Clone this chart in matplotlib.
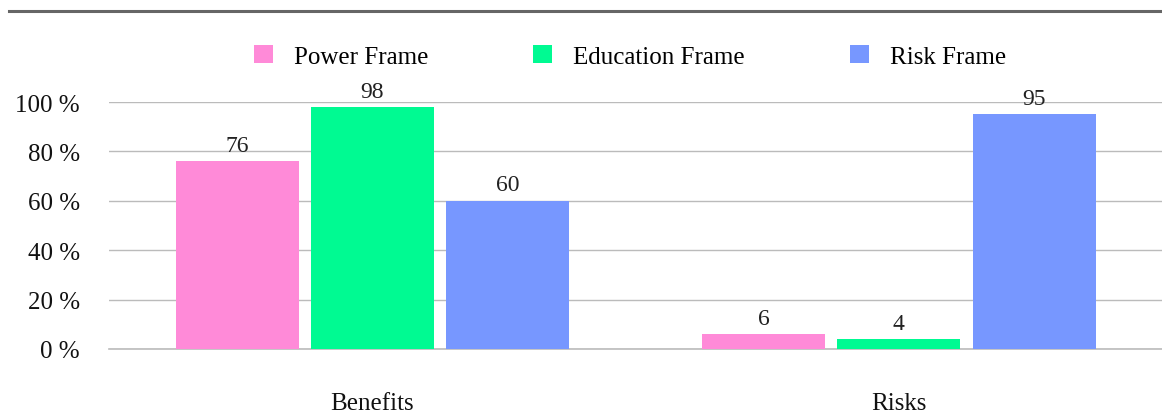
import numpy as np
import matplotlib.pyplot as plt
from matplotlib.lines import Line2D
from matplotlib.patches import Patch

# Data
categories = ['Benefits', 'Risks']
series_names = ['Power Frame', 'Education Frame', 'Risk Frame']
power = [76, 6]
education = [98, 4]
risk = [60, 95]
colors = ['#ff8ad8', '#00fa92', '#7797ff']
yticks = [0, 20, 40, 60, 80, 100]

plt.rcParams['font.family'] = ['Liberation Serif', 'DejaVu Serif']

fig = plt.figure(figsize=(11.62, 4.14), dpi=100)
ax = fig.add_axes([0.094, 0.1546, 0.906, 0.5964])

x = np.arange(len(categories))
width = 0.234
offset = 0.257
for i, (vals, c) in enumerate(zip([power, education, risk], colors)):
    bars = ax.bar(x + (i - 1) * offset, vals, width, color=c, zorder=3)
    for b, v in zip(bars, vals):
        ax.text(b.get_x() + b.get_width() / 2, v + 2.2, str(v),
                ha='center', va='bottom', fontsize=17, color='#222222')

ax.set_xlim(-0.5, 1.5)
ax.set_ylim(0, 100)
ax.set_yticks(yticks)
ax.set_yticklabels([f'{t} %' for t in yticks])
ax.set_xticks(x)
ax.set_xticklabels(categories)
ax.tick_params(axis='y', length=0, pad=21, labelsize=18, labelcolor='#111111')
ax.tick_params(axis='x', length=0, pad=31, labelsize=18, labelcolor='#111111')
ax.yaxis.grid(True, color='#bbbbbb', lw=1, zorder=0)
ax.axhline(0, color='#bbbbbb', lw=1.2, zorder=2, clip_on=False)
for s in ax.spines.values():
    s.set_visible(False)

handles = [Patch(facecolor=c, edgecolor='none') for c in colors]
fig.legend(handles, series_names, loc='center', bbox_to_anchor=(0.542, 0.862),
           ncol=3, frameon=False, fontsize=18, handlelength=0.76, handleheight=0.76,
           handletextpad=0.84, columnspacing=4.2)

# top rule
fig.add_artist(Line2D([0.008, 1.0], [0.971, 0.971], color='#666666', lw=2.2))

fig.savefig('out.png', dpi=100)
